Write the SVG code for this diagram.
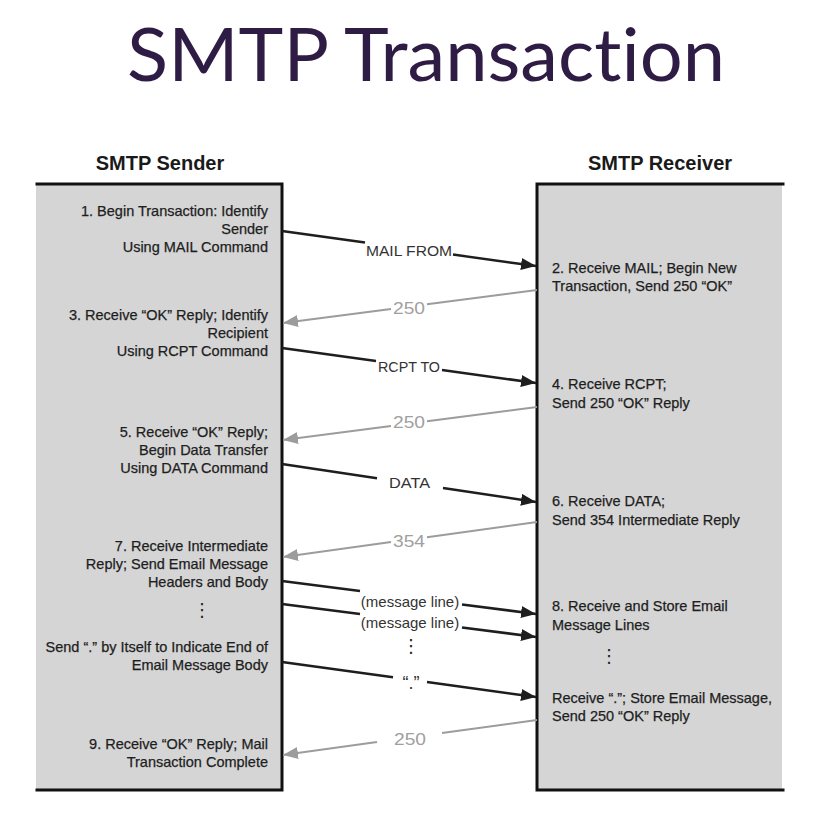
<svg xmlns="http://www.w3.org/2000/svg" width="818" height="829" viewBox="0 0 818 829">
<defs>
<style>
.title{font-family:Lato,"Open Sans",sans-serif;font-size:73px;fill:#2f1c45;font-variant-ligatures:none;font-feature-settings:"liga" 0}
.head{font-family:"Liberation Sans",Arial,sans-serif;font-size:20px;font-weight:bold;fill:#1a1a1a}
.t{font-family:"Liberation Sans",Arial,sans-serif;font-size:14.5px;fill:#1e1e1e;stroke:#1e1e1e;stroke-width:0.25}
.r{text-anchor:end}
.lbl{font-family:"Liberation Sans",Arial,sans-serif;font-size:15px;fill:#333;text-anchor:middle}
.glbl{font-family:"Liberation Sans",Arial,sans-serif;font-size:17px;fill:#a0a0a0;text-anchor:middle}
.dots{font-family:"DejaVu Sans",sans-serif;font-size:18px;fill:#222;text-anchor:middle}
.box{fill:#d5d5d5;stroke:none}
.border{stroke:#111;stroke-width:3;fill:none;stroke-linecap:square}
.blk{stroke:#1e1e1e;stroke-width:2.5;fill:none;marker-end:url(#ab)}
.gry{stroke:#9c9c9c;stroke-width:2;fill:none;marker-end:url(#ag)}
</style>
<marker id="ab" markerUnits="userSpaceOnUse" markerWidth="16" markerHeight="12" refX="15" refY="6" orient="auto">
<path d="M0,0 L15,6 L0,12 z" fill="#1e1e1e"/>
</marker>
<marker id="ag" markerUnits="userSpaceOnUse" markerWidth="16" markerHeight="12" refX="15" refY="6" orient="auto">
<path d="M0,0 L15,6 L0,12 z" fill="#9c9c9c"/>
</marker>
</defs>
<rect width="818" height="829" fill="#fff"/>
<g id="title">
<text class="title" x="426" y="81" text-anchor="middle" textLength="598" lengthAdjust="spacingAndGlyphs">SMTP Transaction</text>
</g>
<g id="sender">
<rect class="box" x="36" y="184" width="246" height="606"/>
<path class="border" d="M37,184 L282,184 L282,790 L37,790"/>
<text class="head" x="160" y="170" text-anchor="middle">SMTP Sender</text>
<text class="t r" x="268" y="216">1. Begin Transaction: Identify</text>
<text class="t r" x="268" y="234">Sender</text>
<text class="t r" x="268" y="252">Using MAIL Command</text>
<text class="t r" x="268" y="320">3. Receive “OK” Reply; Identify</text>
<text class="t r" x="268" y="338">Recipient</text>
<text class="t r" x="268" y="356">Using RCPT Command</text>
<text class="t r" x="268" y="437">5. Receive “OK” Reply;</text>
<text class="t r" x="268" y="455">Begin Data Transfer</text>
<text class="t r" x="268" y="473">Using DATA Command</text>
<text class="t r" x="268" y="551">7. Receive Intermediate</text>
<text class="t r" x="268" y="569">Reply; Send Email Message</text>
<text class="t r" x="268" y="587">Headers and Body</text>
<text class="dots" x="202" y="616">⋮</text>
<text class="t r" x="268" y="652">Send “.” by Itself to Indicate End of</text>
<text class="t r" x="268" y="670">Email Message Body</text>
<text class="t r" x="268" y="749">9. Receive “OK” Reply; Mail</text>
<text class="t r" x="268" y="767">Transaction Complete</text>
</g>
<g id="receiver">
<rect class="box" x="537" y="184" width="245" height="606"/>
<path class="border" d="M783,184 L537,184 L537,790 L783,790"/>
<text class="head" x="660" y="170" text-anchor="middle">SMTP Receiver</text>
<text class="t" x="552" y="273">2. Receive MAIL; Begin New</text>
<text class="t" x="552" y="291">Transaction, Send 250 “OK”</text>
<text class="t" x="552" y="389">4. Receive RCPT;</text>
<text class="t" x="552" y="408">Send 250 “OK” Reply</text>
<text class="t" x="552" y="506">6. Receive DATA;</text>
<text class="t" x="552" y="525">Send 354 Intermediate Reply</text>
<text class="t" x="552" y="611">8. Receive and Store Email</text>
<text class="t" x="552" y="630">Message Lines</text>
<text class="dots" x="609" y="662">⋮</text>
<text class="t" x="552" y="703">Receive “.”; Store Email Message,</text>
<text class="t" x="552" y="721">Send 250 “OK” Reply</text>
</g>
<g id="connectors">
<path class="blk" d="M282,231 L365,242.4 M453,254.6 L536,266"/>
<text class="lbl" x="409" y="256" textLength="86" lengthAdjust="spacingAndGlyphs">MAIL FROM</text>
<path class="gry" d="M537,290 L427,304.3 M391,309 L283,323"/>
<text class="glbl" x="409" y="314" textLength="32" lengthAdjust="spacingAndGlyphs">250</text>
<path class="blk" d="M282,348 L376,361 M442,370 L536,383"/>
<text class="lbl" x="409" y="372" textLength="62" lengthAdjust="spacingAndGlyphs">RCPT TO</text>
<path class="gry" d="M537,407 L427,421.3 M391,426 L283,440"/>
<text class="glbl" x="409" y="428" textLength="32" lengthAdjust="spacingAndGlyphs">250</text>
<path class="blk" d="M282,464 L377,478.2 M443,488 L536,502"/>
<text class="lbl" x="409.5" y="488" textLength="41" lengthAdjust="spacingAndGlyphs">DATA</text>
<path class="gry" d="M537,522 L427,537.2 M391,542.1 L283,557"/>
<text class="glbl" x="409" y="547" textLength="32" lengthAdjust="spacingAndGlyphs">354</text>
<path class="blk" d="M282,581 L360,591.1 M462,604.4 L536,614"/>
<text class="lbl" x="410" y="607">(message line)</text>
<path class="blk" d="M282,604 L360,614.1 M462,627.4 L536,637"/>
<text class="lbl" x="410" y="628">(message line)</text>
<text class="dots" x="411" y="652">⋮</text>
<path class="blk" d="M282,662 L393,677.3 M427,682 L536,697"/>
<text class="lbl" x="411" y="689" style="font-size:18px">“.”</text>
<path class="gry" d="M537,720 L442,733.1 M377,742 L283,755"/>
<text class="glbl" x="410" y="745" textLength="32" lengthAdjust="spacingAndGlyphs">250</text>
</g>
</svg>
